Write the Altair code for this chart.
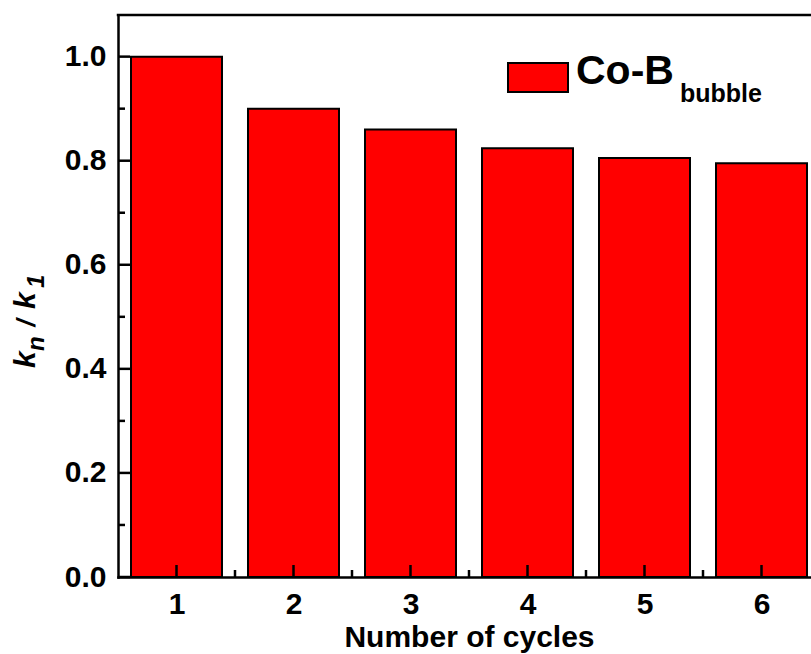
import altair as alt
import pandas as pd

# Relative rate constant k_n / k_1 over repeated cycles
cycles = [1, 2, 3, 4, 5, 6]
ratios = [1.0, 0.90, 0.86, 0.824, 0.805, 0.795]

y_major = [0.0, 0.2, 0.4, 0.6, 0.8, 1.0]
y_minor = [0.1, 0.3, 0.5, 0.7, 0.9]
x_major = [1, 2, 3, 4, 5, 6]
x_minor = [1.5, 2.5, 3.5, 4.5, 5.5]

legend_main = "Co-B"
legend_sub = "bubble"
x_title = "Number of cycles"

W, H = 693, 562
FONT = "Liberation Sans"
PX_PER_CYCLE = 117

xscale = alt.Scale(domain=[0.5, 0.5 + W / PX_PER_CYCLE], nice=False, zero=False, padding=0)
yscale = alt.Scale(domain=[0, 1.08], nice=False, zero=False, padding=0)

xaxis = alt.Axis(
    values=x_major, format="d", ticks=False, tickSize=0, grid=False,
    domainColor="black", domainWidth=2.5, domainCap="square",
    labelFont=FONT, labelFontWeight="bold", labelFontSize=30,
    labelColor="black", labelPadding=12, labelFlush=False,
    title=x_title, titleFont=FONT, titleFontWeight="bold",
    titleFontSize=30, titleColor="black", titleX=351, titleY=69,
    titleAlign="center", titleBaseline="alphabetic")
yaxis = alt.Axis(
    values=y_major, format=".1f", ticks=False, tickSize=0, grid=False,
    domainColor="black", domainWidth=2.5, domainCap="square",
    labelFont=FONT, labelFontWeight="bold", labelFontSize=30,
    labelColor="black", labelPadding=12, title=None)

df = pd.DataFrame({"cycle": cycles, "ratio": ratios})

bars = alt.Chart(df).mark_bar(
    size=91, color="#ff0000", stroke="black", strokeWidth=2
).encode(
    x=alt.X("cycle:Q", scale=xscale, axis=xaxis),
    y=alt.Y("ratio:Q", scale=yscale, axis=yaxis),
)


def yticks(vals, length):
    return alt.Chart(pd.DataFrame({"ratio": vals})).mark_rule(
        color="black", strokeWidth=2.5
    ).encode(
        y=alt.Y("ratio:Q", scale=yscale, axis=yaxis),
        x=alt.value(0), x2=alt.value(length),
    )


def xticks(vals, length):
    return alt.Chart(pd.DataFrame({"cycle": vals})).mark_rule(
        color="black", strokeWidth=2.5
    ).encode(
        x=alt.X("cycle:Q", scale=xscale, axis=xaxis),
        y=alt.value(H), y2=alt.value(H - length),
    )


one = alt.Data(values=[{}])

top_frame = alt.Chart(one).mark_rule(
    color="black", strokeWidth=2.5, strokeCap="square"
).encode(x=alt.value(0), x2=alt.value(W), y=alt.value(0))

# legend swatch and label with subscript
swatch = alt.Chart(one).mark_rect(
    color="#ff0000", stroke="black", strokeWidth=2
).encode(x=alt.value(390), x2=alt.value(450), y=alt.value(48), y2=alt.value(77))


def label(text, x, y, size, angle=0, italic=False, align="left"):
    kw = dict(text=text, font=FONT, fontWeight="bold", fontSize=size,
              color="black", align=align, baseline="alphabetic")
    if angle:
        kw["angle"] = angle
    if italic:
        kw["fontStyle"] = "italic"
    return alt.Chart(one).mark_text(**kw).encode(x=alt.value(x), y=alt.value(y))


legend_texts = [
    label(legend_main, 458, 69, 41),
    label(legend_sub, 562, 87, 25),
]

# rotated y title: k_n / k_1
ytitle = [
    label("k", -83, 353, 30, angle=270, italic=True),
    label("n", -74, 336, 24, angle=270, italic=True),
    label("/", -83, 308, 26, angle=270, italic=True, align="center"),
    label("k", -83, 294, 30, angle=270, italic=True),
    label("1", -74, 273, 24, angle=270, italic=True),
]

chart = alt.layer(
    bars,
    yticks(y_major, 12), yticks(y_minor, 7),
    xticks(x_major, 12), xticks(x_minor, 7),
    top_frame, swatch, *legend_texts, *ytitle,
).properties(
    width=W, height=H,
    padding={"left": 118, "top": 15, "right": 0, "bottom": 77},
    autosize="none",
).configure_view(stroke=None).configure(background="white")

chart.save("out.html", embed_options={"renderer": "svg", "actions": False})
